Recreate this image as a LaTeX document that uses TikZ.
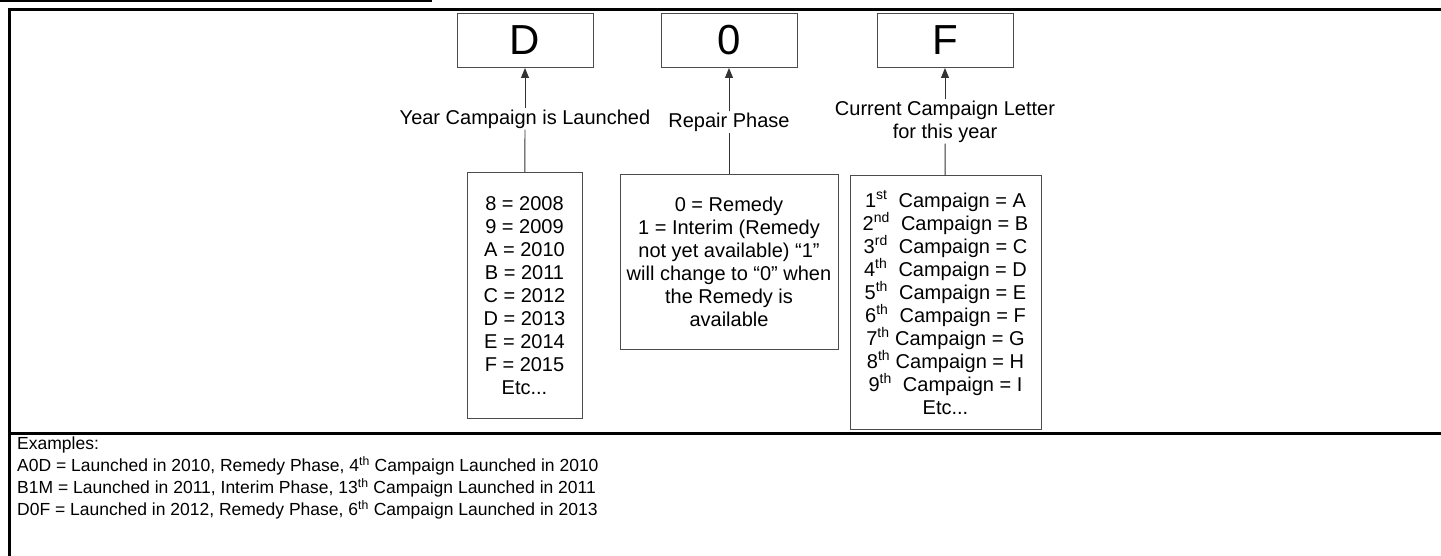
\documentclass[tikz,border=0pt]{standalone}
\usepackage{fontspec}
\setmainfont{Liberation Sans}
\usetikzlibrary{arrows.meta,positioning}

\tikzset{
    letterbox/.style={draw=black!70, line width=1pt, minimum width=136pt, minimum height=54pt,
        inner sep=0pt, font=\fontsize{42}{42}\selectfont},
    infobox/.style={draw=black!70, line width=1pt, align=center, inner sep=0pt},
    partlabel/.style={align=center, inner sep=1pt},
    pointer/.style={draw=black!80, line width=0.9pt, -{Triangle[length=10pt,width=8pt]}},
    tie/.style={draw=black!80, line width=0.9pt},
    frame/.style={line width=3pt}
}

\begin{document}
\begin{tikzpicture}[x=1pt, y=-1pt, every node/.style={font=\fontsize{20}{23}\selectfont}]
    \useasboundingbox (0,0) rectangle (1441,556);

    % Frame
    \draw[line width=2.5pt] (0,1) -- (432,1);
    \draw[frame] (1441,10) -- (9,10) -- (9,556);
    \draw[frame] (9,433) -- (1441,433);

    % Code letters
    \node[letterbox] (yearcode) at (525,40.5) {D};
    \node[letterbox] (phasecode) at (729,40.5) {0};
    \node[letterbox] (lettercode) at (945,40.5) {F};

    % Labels
    \node[partlabel] (yearlbl) at (525,119) {Year Campaign is Launched};
    \node[partlabel] (phaselbl) at (729,122) {Repair Phase};
    \node[partlabel] (letterlbl) at (945,121.5) {Current Campaign Letter\\for this year};

    % Lists
    \node[infobox, minimum width=115pt, minimum height=245pt] (yearlist) at (524.5,295.5)
        {8 = 2008\\9 = 2009\\A = 2010\\B = 2011\\C = 2012\\D = 2013\\E = 2014\\F = 2015\\Etc...};
    \node[infobox, minimum width=218pt, minimum height=174pt] (phaselist) at (729,262)
        {0 = Remedy\\1 = Interim (Remedy\\not yet available) “1”\\will change to “0” when\\the Remedy is\\available};
    \node[infobox, minimum width=191pt, minimum height=253pt] (letterlist) at (945.5,302.5)
        {1\textsuperscript{st}\ \ Campaign = A\\2\textsuperscript{nd}\ \ Campaign = B\\3\textsuperscript{rd}\ \ Campaign = C\\
         4\textsuperscript{th}\ \ Campaign = D\\5\textsuperscript{th}\ \ Campaign = E\\6\textsuperscript{th}\ \ Campaign = F\\
         7\textsuperscript{th} Campaign = G\\8\textsuperscript{th} Campaign = H\\9\textsuperscript{th}\ \ Campaign = I\\Etc...};

    % Connectors
    \foreach \part in {year,phase,letter} {
        \draw[pointer] (\part lbl) -- (\part code);
        \draw[tie] (\part list) -- (\part lbl);
    }

    % Examples
    \node[align=left, anchor=north west, inner sep=0pt, font=\fontsize{17.5}{22}\selectfont]
        (examples) at (17,437)
        {Examples:\\
         A0D = Launched in 2010, Remedy Phase, 4\textsuperscript{th} Campaign Launched in 2010\\
         B1M = Launched in 2011, Interim Phase, 13\textsuperscript{th} Campaign Launched in 2011\\
         D0F = Launched in 2012, Remedy Phase, 6\textsuperscript{th} Campaign Launched in 2013};
\end{tikzpicture}
\end{document}
